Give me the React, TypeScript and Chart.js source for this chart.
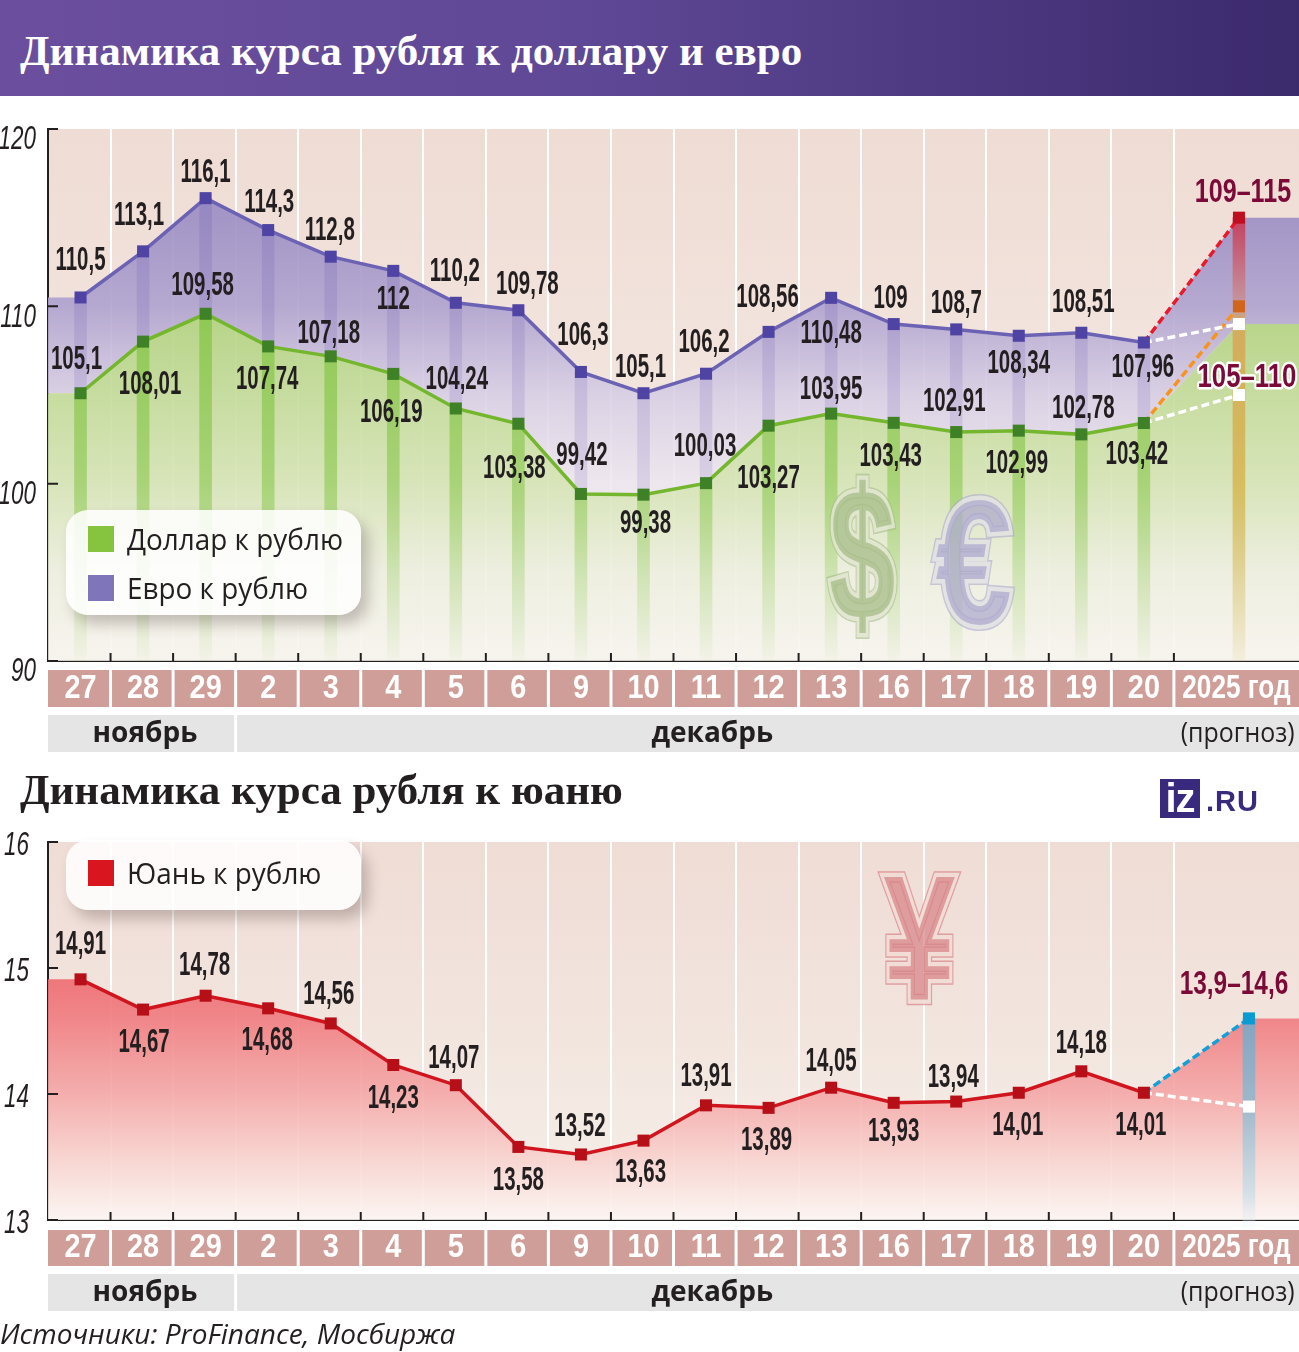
import React, { useEffect, useRef } from "react";
import { Chart, registerables } from "chart.js";

Chart.register(...registerables);

const days = ["27", "28", "29", "2", "3", "4", "5", "6", "9", "10", "11", "12", "13", "16", "17", "18", "19", "20"];
const forecastName = "2025 год";
const dollar = [105.1, 108.01, 109.58, 107.74, 107.18, 106.19, 104.24, 103.38, 99.42, 99.38, 100.03, 103.27, 103.95, 103.43, 102.91, 102.99, 102.78, 103.42];
const euro = [110.5, 113.1, 116.1, 114.3, 112.8, 112, 110.2, 109.78, 106.3, 105.1, 106.2, 108.56, 110.48, 109, 108.7, 108.34, 108.51, 107.96];
const yuan = [14.91, 14.67, 14.78, 14.68, 14.56, 14.23, 14.07, 13.58, 13.52, 13.63, 13.91, 13.89, 14.05, 13.93, 13.94, 14.01, 14.18, 14.01];
const euroForecast = [109, 115];
const dollarForecast = [105, 110];
const yuanForecast = [13.9, 14.6];
const monthLabels = ["ноябрь", "декабрь", "(прогноз)"];
const monthPositions = [1.05, 10.12, 18.52];

// label nudges (px) relative to each point
const euroNudge = [[0, -39], [-4, -38], [0, -28], [1, -30], [-1, -28], [0, 27], [-1, -33], [9, -28], [2, -39], [-3, -28], [-2, -33], [-1, -36], [0, 34], [-3, -28], [0, -28], [0, 26], [2, -32], [-1, 23]];
const dollarNudge = [[-4, -36], [7, 41], [-3, -30], [-1, 31], [-2, -25], [-2, 37], [1, -31], [-4, 43], [1, -41], [2, 27], [-1, -39], [0, 51], [0, -26], [-3, 32], [-2, -33], [-2, 31], [2, -28], [-7, 29]];
const yuanNudge = [[0, -37], [1, 31], [-1, -32], [-1, 30], [-2, -31], [0, 31], [-2, -29], [0, 31], [-1, -30], [-3, 30], [0, -31], [-2, 31], [0, -28], [0, 27], [-3, -26], [-1, 31], [0, -30], [-3, 31]];

const NARROW = '"Liberation Sans",sans-serif';
const INK = "#231f20";
const DX = 0.02;
const XMIN = -0.5;
const XMAX = 19.5;
const SIDE = 8.5;

const pts = (vals: number[]) => vals.map((v, i) => ({ x: i + DX, y: v }));

function squeezed(ctx: any, text: string, x: number, y: number, font: string, color: string, sx: number, align = "center", halo?: string) {
  ctx.save();
  ctx.font = font;
  ctx.textAlign = align;
  ctx.textBaseline = "middle";
  ctx.translate(x, y);
  ctx.scale(sx, 1);
  if (halo) {
    ctx.lineJoin = "round";
    ctx.lineWidth = 5;
    ctx.strokeStyle = halo;
    ctx.strokeText(text, 0, 0);
  }
  ctx.fillStyle = color;
  ctx.fillText(text, 0, 0);
  ctx.restore();
}

function vGradient(chart: any, stops: [number, string][]) {
  const y = chart.scales.y;
  const ca = chart.chartArea;
  if (!ca || !y) return "transparent";
  const v0 = stops[0][0];
  const v1 = stops[stops.length - 1][0];
  const g = chart.ctx.createLinearGradient(0, y.getPixelForValue(v0), 0, y.getPixelForValue(v1));
  stops.forEach(([v, c]) => g.addColorStop((v - v0) / (v1 - v0), c));
  return g;
}

const scriptGrad = (stops: [number, string][]) => (c: any) => vGradient(c.chart, stops);

const paperPlugin = {
  id: "paper",
  beforeDraw(chart: any, _a: any, o: any) {
    const { ctx, chartArea: ca, scales } = chart;
    ctx.save();
    const g = ctx.createLinearGradient(0, ca.top, 0, ca.bottom);
    o.paper.forEach(([p, c]: [number, string]) => g.addColorStop(p, c));
    ctx.fillStyle = g;
    ctx.fillRect(ca.left, ca.top, ca.right - ca.left, ca.bottom - ca.top);

    // date strip and month strip
    const sx = scales.x;
    const edges: number[] = sx.ticks.map((t: any) => t.value);
    const stripTop = ca.bottom + o.stripTop;
    const stripH = o.stripH;
    ctx.fillStyle = "#cf9e98";
    edges.forEach((e, i) => {
      const l = sx.getPixelForValue(e) + (i === 0 ? 0 : 1.5);
      const r = i + 1 < edges.length ? sx.getPixelForValue(edges[i + 1]) - 1.5 : ca.right;
      ctx.fillRect(l, stripTop, r - l, stripH);
    });
    const mTop = ca.bottom + o.monthTop;
    const mH = o.monthH;
    const split = sx.getPixelForValue(2.5);
    ctx.fillStyle = "#e5e5e5";
    ctx.fillRect(ca.left, mTop, split - 1.5 - ca.left, mH);
    ctx.fillRect(split + 1.5, mTop, ca.right - split - 1.5, mH);
    ctx.restore();
  },
  afterDatasetsDraw(chart: any, _a: any, o: any) {
    const { ctx, chartArea: ca, scales } = chart;
    const { x, y, x2, x3 } = scales;
    ctx.save();
    // tick marks
    ctx.strokeStyle = INK;
    ctx.lineWidth = 2;
    ctx.beginPath();
    x.ticks.forEach((t: any) => {
      if (t.value === XMIN) return;
      const p = x.getPixelForValue(t.value);
      ctx.moveTo(p, ca.bottom);
      ctx.lineTo(p, ca.bottom - 8);
    });
    y.ticks.forEach((t: any) => {
      const p = y.getPixelForValue(t.value);
      ctx.moveTo(ca.left, p);
      ctx.lineTo(ca.left + 10, p);
    });
    ctx.stroke();
    ctx.restore();

    // tick labels
    y.ticks.forEach((t: any) => {
      squeezed(ctx, t.label, o.yLabelX, y.getPixelForValue(t.value) + o.yLabelDy, `italic 33px ${NARROW}`, INK, 0.68, "right");
    });
    x2.ticks.forEach((t: any) => {
      squeezed(ctx, t.label, x2.getPixelForValue(t.value), ca.bottom + o.stripTop + o.stripH / 2, `bold 34px ${NARROW}`, "#ffffff", t.label.length > 2 ? 0.77 : 0.85);
    });
    x3.ticks.forEach((t: any, i: number) => {
      const last = i === 2;
      squeezed(ctx, t.label, x3.getPixelForValue(t.value), ca.bottom + o.monthTop + o.monthH / 2 + 1, `${last ? "" : "bold "}28px "Open Sans"`, INK, last ? 0.89 : 1);
    });
  },
};

const labelPlugin = {
  id: "marks",
  afterDatasetsDraw(chart: any, _a: any, o: any) {
    const { ctx, scales } = chart;
    (o.glyphs || []).forEach((g: any) => {
      ctx.save();
      ctx.translate(scales.x.getPixelForValue(g.x), scales.y.getPixelForValue(g.y));
      ctx.scale(g.sx, g.sy);
      ctx.font = `bold ${g.size}px "Liberation Sans"`;
      ctx.textAlign = "center";
      ctx.textBaseline = "middle";
      ctx.lineJoin = "miter";
      ctx.lineWidth = 11;
      ctx.strokeStyle = g.edge;
      ctx.strokeText(g.ch, 0, 0);
      ctx.lineWidth = 8;
      ctx.strokeStyle = g.gap;
      ctx.strokeText(g.ch, 0, 0);
      ctx.fillStyle = g.fill;
      ctx.fillText(g.ch, 0, 0);
      ctx.restore();
    });
  },
  afterDraw(chart: any, _a: any, o: any) {
    const { ctx, scales } = chart;
    (o.labels || []).forEach((l: any) => {
      squeezed(ctx, l.text, scales.x.getPixelForValue(l.x) + l.dx, scales.y.getPixelForValue(l.y) + l.dy + 2.5, `bold ${l.size || 33}px ${NARROW}`, l.color || INK, l.sx || 0.62, "center", l.halo);
    });
  },
};

const comma = (v: number) => String(v).replace(".", ",");
const valueLabels = (vals: number[], nudge: number[][]) =>
  vals.map((v, i) => ({ text: comma(v), x: i + DX, y: v, dx: nudge[i][0], dy: nudge[i][1] }));

const edgeTicks = [...days.map((_, i) => i - 0.5), days.length - 0.5];
const centreTicks = [...days.map((_, i) => i + DX), 18.5];

function scalesFor(yMin: number, yMax: number, step: number) {
  const setTicks = (vals: number[]) => (s: any) => {
    s.ticks = vals.map((value) => ({ value }));
  };
  const base = { type: "linear", min: XMIN, max: XMAX, offset: false };
  const tickOff = { autoSkip: false, maxRotation: 0, minRotation: 0, display: false };
  return {
    x: {
      ...base,
      weight: 0,
      grid: { color: "#ffffff", lineWidth: 2, drawTicks: false, offset: false },
      border: { display: true, color: INK, width: 2 },
      ticks: { ...tickOff, callback: () => "" },
      afterBuildTicks: setTicks(edgeTicks),
      afterFit: (s: any) => { s.height = 9; },
    },
    x2: {
      ...base,
      position: "bottom",
      weight: 1,
      grid: { display: false },
      border: { display: false },
      ticks: { ...tickOff, callback: (_: any, i: number) => (i < days.length ? days[i] : forecastName) },
      afterBuildTicks: setTicks(centreTicks),
      afterFit: (s: any) => { s.height = 45; },
    },
    x3: {
      ...base,
      position: "bottom",
      weight: 2,
      grid: { display: false },
      border: { display: false },
      ticks: { ...tickOff, callback: (_: any, i: number) => monthLabels[i] },
      afterBuildTicks: setTicks(monthPositions),
      afterFit: (s: any) => { s.height = 37; },
    },
    y: {
      type: "linear",
      min: yMin,
      max: yMax,
      grid: { display: false, drawTicks: false },
      border: { display: true, color: INK, width: 2 },
      ticks: { stepSize: step, display: false, callback: (v: number) => String(v) },
      afterFit: (s: any) => { s.width = 48; },
    },
  };
}

const stripe = (x: number, lo: number, hi: number) => ({ x, y: [lo, hi] });

function dashed(from: number, to: number, fx: number, color: string, markerColor: string) {
  return {
    type: "line",
    data: [{ x: 17 + DX, y: from }, { x: fx, y: to }],
    borderColor: color,
    borderWidth: 3.5,
    borderDash: [8, 4],
    pointStyle: "rect",
    pointRadius: [0, SIDE],
    pointHoverRadius: [0, SIDE],
    pointBorderWidth: 0,
    pointBackgroundColor: markerColor,
    fill: false,
    tension: 0,
    order: 2,
  };
}

function solid(vals: number[], color: string, marker: string) {
  return {
    type: "line",
    data: pts(vals),
    borderColor: color,
    borderWidth: 3.5,
    pointStyle: "rect",
    pointRadius: SIDE,
    pointBorderWidth: 0,
    pointBackgroundColor: marker,
    fill: false,
    tension: 0,
    order: 1,
  };
}

function bars(data: any[], bg: any, order: number) {
  return { type: "bar", data, backgroundColor: bg, barThickness: 12, grouped: false, borderWidth: 0, order };
}

const FX1 = 18.54;
const FX2 = 18.7;
const areaEuro = [{ x: XMIN, y: euro[0] }, ...pts(euro), { x: FX1, y: euroForecast[1] }, { x: XMAX, y: euroForecast[1] }];
const areaDollar = [{ x: XMIN, y: dollar[0] }, ...pts(dollar), { x: FX1, y: euroForecast[0] }, { x: XMAX, y: euroForecast[0] }];
const areaYuan = [{ x: XMIN, y: yuan[0] }, ...pts(yuan), { x: FX2, y: yuanForecast[1] }, { x: XMAX, y: yuanForecast[1] }];

const currencyConfig = {
  type: "line",
  data: {
    datasets: [
      {
        data: areaEuro,
        borderWidth: 0,
        pointRadius: 0,
        tension: 0,
        fill: "+1",
        order: 10,
        backgroundColor: scriptGrad([[115, "rgba(157,144,197,.92)"], [110, "rgba(175,162,207,.9)"], [105, "rgba(214,205,229,.85)"], [100, "rgba(236,230,240,.8)"]]),
      },
      {
        data: areaDollar,
        borderWidth: 0,
        pointRadius: 0,
        tension: 0,
        fill: "start",
        order: 9,
        backgroundColor: scriptGrad([[109, "rgba(180,212,132,.92)"], [100, "rgba(212,228,180,.88)"], [95, "rgba(236,239,222,.85)"], [90, "rgba(247,244,238,.8)"]]),
      },
      bars(euro.map((v, i) => stripe(i + DX, dollar[i], v)), scriptGrad([[116, "rgba(100,85,175,.2)"], [100, "rgba(110,95,180,.16)"]]), 8),
      bars(dollar.map((v, i) => stripe(i + DX, 90, v)), scriptGrad([[110, "rgba(125,195,60,.68)"], [100, "rgba(125,195,60,.52)"], [90, "rgba(125,195,60,.03)"]]), 7),
      bars([stripe(FX1, 90, euroForecast[1])], scriptGrad([[115, "rgba(200,55,85,.9)"], [110, "rgba(200,150,150,.85)"], [109, "rgba(212,170,90,.95)"], [100, "rgba(214,185,85,.9)"], [90, "rgba(214,185,85,.1)"]]), 6),
      dashed(euro[17], euroForecast[1], FX1, "#e8192c", "#bf0f1e"),
      dashed(euro[17], euroForecast[0], FX1, "#ffffff", "#ffffff"),
      dashed(dollar[17], dollarForecast[1], FX1, "#f7941d", "#cf661b"),
      dashed(dollar[17], dollarForecast[0], FX1, "#ffffff", "#ffffff"),
      solid(euro, "#6c62b4", "#4f44a3"),
      solid(dollar, "#74b62e", "#3f8126"),
    ],
  },
  options: {
    animation: false,
    responsive: false,
    clip: false,
    layout: { autoPadding: false, padding: { top: 29, bottom: 8, left: 0, right: 0 } },
    scales: scalesFor(90, 120, 10),
    plugins: {
      legend: { display: false },
      tooltip: { enabled: false },
      paper: {
        paper: [[0, "#efdcd4"], [0.5, "#f2e5de"], [1, "#f7f3ee"]],
        stripTop: 9, stripH: 37, monthTop: 54, monthH: 37,
        yLabelX: 36, yLabelDy: 11,
      },
      marks: {
        glyphs: [
          { ch: "$", x: 12.52, y: 95.3, size: 176, sx: 0.68, sy: 1.07, fill: "rgba(165,188,135,.75)", gap: "rgba(240,240,225,.7)", edge: "rgba(165,188,135,.6)" },
          { ch: "€", x: 14.3, y: 94.9, size: 160, sx: 0.86, sy: 1.1, fill: "rgba(172,168,205,.72)", gap: "rgba(240,240,232,.7)", edge: "rgba(172,168,205,.6)" },
        ],
        labels: [
          ...valueLabels(euro, euroNudge),
          ...valueLabels(dollar, dollarNudge),
          { text: "109–115", x: FX1, y: euroForecast[1], dx: 4, dy: -27, color: "#7b0a38", sx: 0.76 },
          { text: "105–110", x: FX1, y: dollarForecast[0], dx: 8, dy: -20, color: "#7b0a38", sx: 0.78, halo: "#ffffff" },
        ],
      },
    },
  },
  plugins: [paperPlugin, labelPlugin],
};

const yuanConfig = {
  type: "line",
  data: {
    datasets: [
      {
        data: areaYuan,
        borderWidth: 0,
        pointRadius: 0,
        tension: 0,
        fill: "start",
        order: 10,
        backgroundColor: scriptGrad([[14.9, "rgba(238,110,115,.92)"], [14.6, "rgba(240,126,130,.92)"], [14, "rgba(244,166,166,.88)"], [13.5, "rgba(248,208,204,.85)"], [13, "rgba(252,246,243,.85)"]]),
      },
      { ...bars([stripe(FX2, 12.92, yuanForecast[1])], scriptGrad([[14.6, "rgba(125,165,195,.95)"], [13.9, "rgba(150,185,205,.9)"], [13.2, "rgba(205,222,232,.8)"], [12.92, "rgba(230,240,248,.1)"]]), 8), clip: false },
      dashed(yuan[17], yuanForecast[1], FX2, "#11a0d8", "#0a9bd3"),
      dashed(yuan[17], yuanForecast[0], FX2, "#ffffff", "#ffffff"),
      solid(yuan, "#d0151f", "#b60f18"),
    ],
  },
  options: {
    animation: false,
    responsive: false,
    clip: false,
    layout: { autoPadding: false, padding: { top: 27, bottom: 8, left: 0, right: 0 } },
    scales: scalesFor(13, 16, 1),
    plugins: {
      legend: { display: false },
      tooltip: { enabled: false },
      paper: {
        paper: [[0, "#efdcd5"], [0.5, "#f2e5de"], [1, "#f6efea"]],
        stripTop: 10, stripH: 36, monthTop: 54, monthH: 37,
        yLabelX: 29, yLabelDy: 4,
      },
      marks: {
        glyphs: [
          { ch: "¥", x: 13.43, y: 15.14, size: 170, sx: 0.76, sy: 1.05, fill: "rgba(215,130,135,.72)", gap: "rgba(245,232,222,.85)", edge: "rgba(215,130,135,.7)" },
        ],
        labels: [
          ...valueLabels(yuan, yuanNudge),
          { text: "13,9–14,6", x: FX2, y: yuanForecast[1], dx: -15, dy: -36, color: "#7b0a38", sx: 0.74 },
        ],
      },
    },
  },
  plugins: [paperPlugin, labelPlugin],
};

function useChart(config: any) {
  const ref = useRef<HTMLCanvasElement | null>(null);
  useEffect(() => {
    const chart = new Chart(ref.current as any, config);
    return () => chart.destroy();
  }, [config]);
  return ref;
}

const abs = (left: number, top: number, extra: any = {}) => ({ position: "absolute", left, top, ...extra });

function LegendBox({ left, top, width, height, rows }: any) {
  return (
    <div style={abs(left, top, { width, height, borderRadius: 22, background: "rgba(255,255,255,.86)", boxShadow: "7px 9px 14px rgba(70,50,50,.28)" })}>
      {rows.map((r: any) => (
        <div key={r.text} style={abs(0, r.top, { height: 26, width })}>
          <div style={abs(22, 0, { width: 26, height: 26, background: r.color })} />
          <div style={abs(61, -7, { fontFamily: '"Open Sans"', fontSize: 30, lineHeight: "40px", color: INK, whiteSpace: "nowrap", transform: "scaleX(.93)", transformOrigin: "left center" })}>{r.text}</div>
        </div>
      ))}
    </div>
  );
}

export default function App() {
  const top = useChart(currencyConfig);
  const bottom = useChart(yuanConfig);
  return (
    <div style={{ position: "absolute", left: 0, top: 0, width: 1299, height: 1352, overflow: "hidden", background: "#fff" }}>
      <div style={abs(0, 0, { width: 1299, height: 96, background: "linear-gradient(90deg,#6b4f9e 0%,#5f4896 45%,#3b2a6c 100%)" })}>
        <div style={abs(20, 21, { color: "#fff", fontFamily: '"Liberation Serif"', fontWeight: 700, fontSize: 43, lineHeight: "60px", whiteSpace: "nowrap" })}>Динамика курса рубля к доллару и евро</div>
      </div>
      <canvas ref={top} width={1299} height={660} style={abs(0, 100, { display: "block" })} />
      <canvas ref={bottom} width={1299} height={504} style={abs(0, 815, { display: "block" })} />
      <div style={abs(20, 760, { color: INK, fontFamily: '"Liberation Serif"', fontWeight: 700, fontSize: 43, lineHeight: "60px", whiteSpace: "nowrap" })}>Динамика курса рубля к юаню</div>
      <div style={abs(1160, 779, { width: 40, height: 39, background: "#3a2a7e", color: "#fff", fontFamily: '"Liberation Sans"', fontWeight: 700, fontSize: 40, lineHeight: "39px", textAlign: "center", letterSpacing: -1 })}>iz</div>
      <div style={abs(1206, 782, { color: "#3a2a7e", fontFamily: '"Liberation Sans"', fontWeight: 700, fontSize: 29, lineHeight: "38px", letterSpacing: 1 })}>.RU</div>
      <LegendBox left={66} top={510} width={295} height={105} rows={[{ text: "Доллар к рублю", color: "#86c440", top: 16 }, { text: "Евро к рублю", color: "#7f75bb", top: 65 }]} />
      <LegendBox left={66} top={840} width={295} height={70} rows={[{ text: "Юань к рублю", color: "#d9161f", top: 20 }]} />
      <div style={abs(0, 1314, { color: INK, fontFamily: '"Open Sans"', fontStyle: "italic", fontSize: 28, lineHeight: "38px", whiteSpace: "nowrap" })}>Источники: ProFinance, Мосбиржа</div>
    </div>
  );
}
